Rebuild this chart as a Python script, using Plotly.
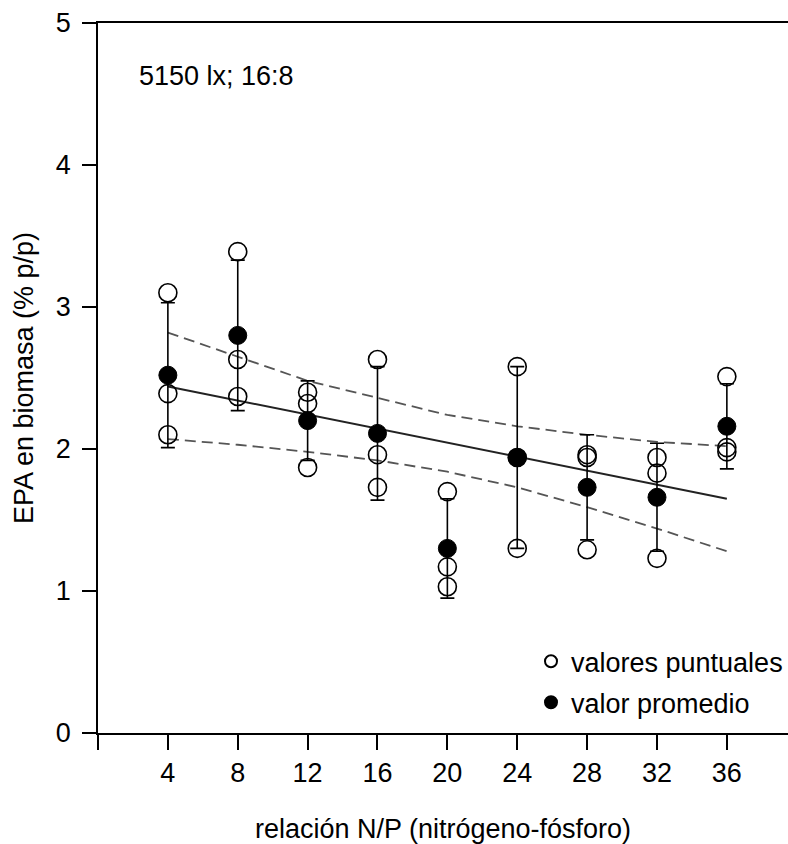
import plotly.graph_objects as go

# N/P ratios
np_ratio = [4, 8, 12, 16, 20, 24, 28, 32, 36]

rep1 = [3.10, 3.39, 2.40, 2.63, 1.70, 2.58, 1.94, 1.94, 2.51]
rep2 = [2.39, 2.63, 2.32, 1.96, 1.17, 1.94, 1.96, 1.83, 2.01]
rep3 = [2.10, 2.37, 1.87, 1.73, 1.03, 1.30, 1.29, 1.23, 1.98]

# mean values and standard deviations
mean_val = [2.52, 2.80, 2.20, 2.11, 1.30, 1.94, 1.73, 1.66, 2.16]
sd_val = [0.51, 0.53, 0.28, 0.47, 0.35, 0.64, 0.37, 0.38, 0.30]

# regression line (end points) and 95% confidence band
fit_x = [4, 36]
fit_y = [2.44, 1.65]
ci_upper = [2.82, 2.65, 2.48, 2.36, 2.24, 2.16, 2.10, 2.05, 2.02]
ci_lower = [2.07, 2.03, 1.98, 1.92, 1.84, 1.73, 1.59, 1.44, 1.28]

x_ticks = [0, 4, 8, 12, 16, 20, 24, 28, 32, 36]
x_ticktext = [""] + [str(v) for v in x_ticks[1:]]
y_ticks = [0, 1, 2, 3, 4, 5]

FONT = "Liberation Sans, Arial, sans-serif"
FS = 27

fig = go.Figure()

fig.add_trace(go.Scatter(x=np_ratio, y=ci_upper, mode="lines",
                         line=dict(color="#555555", width=1.8, dash="11px,6px"),
                         showlegend=False, hoverinfo="skip"))
fig.add_trace(go.Scatter(x=np_ratio, y=ci_lower, mode="lines",
                         line=dict(color="#555555", width=1.8, dash="11px,6px"),
                         showlegend=False, hoverinfo="skip"))
fig.add_trace(go.Scatter(x=fit_x, y=fit_y, mode="lines",
                         line=dict(color="#222222", width=2),
                         showlegend=False, hoverinfo="skip"))

# error bars (mean +- SD), drawn without markers so that points sit on top
fig.add_trace(go.Scatter(x=np_ratio, y=mean_val, mode="markers",
                         marker=dict(size=1, color="rgba(0,0,0,0)"),
                         error_y=dict(type="data", array=sd_val, visible=True,
                                      color="black", thickness=1.6, width=7),
                         showlegend=False, hoverinfo="skip"))

xs_all = np_ratio * 3
ys_all = rep1 + rep2 + rep3
fig.add_trace(go.Scatter(x=xs_all, y=ys_all, mode="markers",
                         name="valores puntuales", legendgroup="a",
                         marker=dict(symbol="circle-open", size=18, color="black",
                                     line=dict(width=1.6, color="black"))))
fig.add_trace(go.Scatter(x=np_ratio, y=mean_val, mode="markers",
                         name="valor promedio", legendgroup="b",
                         marker=dict(symbol="circle", size=18, color="black",
                                     line=dict(width=1, color="black"))))

fig.add_annotation(text="5150 lx; 16:8", xref="paper", yref="paper",
                   x=0.056, y=0.925, xanchor="left", yanchor="middle",
                   showarrow=False, font=dict(size=FS, color="black", family=FONT))

fig.update_layout(
    width=788, height=844,
    margin=dict(l=98, r=0, t=23, b=111),
    paper_bgcolor="white", plot_bgcolor="white",
    font=dict(family=FONT, size=FS, color="black"),
    legend=dict(x=1.0, xanchor="right", y=0.135, yanchor="top",
                bgcolor="rgba(0,0,0,0)", font=dict(size=FS),
                itemsizing="constant", traceorder="grouped", tracegroupgap=3),
    xaxis=dict(range=[0, 39.5], tickvals=x_ticks, ticktext=x_ticktext,
               ticks="outside", ticklen=15, tickwidth=1.5, tickcolor="black",
               showline=True, linecolor="black", linewidth=1.5, mirror=True,
               showgrid=False, zeroline=False,
               tickfont=dict(size=FS),
               title=dict(text="relación N/P (nitrógeno-fósforo)", font=dict(size=FS), standoff=33)),
    yaxis=dict(range=[0, 5], tickvals=y_ticks,
               ticks="outside", ticklen=14, tickwidth=1.5, tickcolor="black",
               showline=True, linecolor="black", linewidth=1.5, mirror=False,
               showgrid=False, zeroline=False, ticklabelstandoff=6,
               tickfont=dict(size=FS),
               title=dict(text="EPA en biomasa (% p/p)", font=dict(size=FS), standoff=14)),
)

fig.write_html("out.html")
